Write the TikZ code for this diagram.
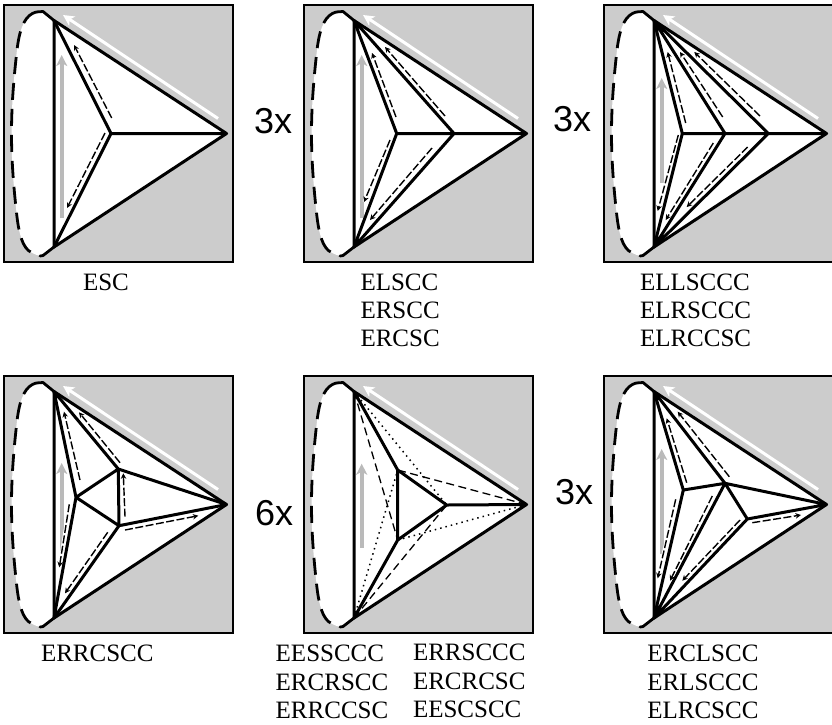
\documentclass[tikz,border=0pt]{standalone}
\usepackage{fontspec}
\setmainfont{Liberation Serif}
\newfontfamily\numfont{Liberation Sans}
\usetikzlibrary{arrows.meta}
\definecolor{panelgray}{gray}{0.8}
\definecolor{arrowgray}{gray}{0.73}
\tikzset{
  x=1pt,y=-1pt,
  frame/.style={draw=black,line width=2pt,fill=panelgray},
  edge/.style={draw=black,line width=3pt,line cap=round,line join=round},
  blobfill/.style={fill=white},
  blobdash/.style={draw=black,line width=2.8pt,dash pattern=on 17pt off 9pt},
  blobend/.style={draw=black,line width=2.8pt,line cap=round,line join=round},
  grayarrow/.style={draw=arrowgray,line width=3.6pt,-{Stealth[length=11pt,width=11pt,inset=3pt]}},
  whitearrow/.style={draw=white,line width=3pt,-{Stealth[length=11pt,width=11pt,inset=3pt]}},
  flow/.style={draw=black,line width=1.4pt,dash pattern=on 8pt off 2.5pt,-{Stealth[length=5.5pt,width=5.5pt]},
    preaction={draw=white,line width=3.2pt,solid,-}},
  thindash/.style={draw=black,line width=1.3pt,dash pattern=on 8pt off 4.5pt},
  thindot/.style={draw=black,line width=1.5pt,dash pattern=on 1.5pt off 4pt},
  caption/.style={font=\fontsize{25}{25}\selectfont,anchor=base west,inner sep=0pt,outer sep=0pt},
  count/.style={font=\numfont\fontsize{36}{36}\selectfont,anchor=base west,inner sep=0pt,outer sep=0pt},
}
% common panel: frame, blob, white triangle, long arrows. #1 top, #2 bottom of gray arrow
\newcommand{\panelbase}[2]{%
  \path[frame] (4,5) rectangle (233,261.5);
  \coordinate (T) at (54,20.5);
  \coordinate (B) at (54,247);
  \coordinate (R) at (226.5,133.5);
  \path[blobfill] (T) -- (41.5,11) .. controls (26,13) and (20,25) .. (17,50) .. controls (13,85) and (11.5,110) .. (11.5,133.5) .. controls (11.5,157) and (13,182) .. (17,217) .. controls (20,242) and (26,254) .. (41.5,256) -- (B) -- cycle;
  \path[blobdash] (36,12) .. controls (26,15) and (20,25) .. (17,50) .. controls (13,85) and (11.5,110) .. (11.5,133.5) .. controls (11.5,157) and (13,182) .. (17,217) .. controls (20,242) and (26,252) .. (34,253);
  \path[blobend] (T) -- (43,11.5) -- (36,12);
  \path[blobend] (B) -- (43,255.5) -- (40,256);
  \path[fill=white] (T) -- (R) -- (B) -- cycle;
  \coordinate (gb) at (61.7,#2);
  \coordinate (gt) at (61.7,#1);
  \draw[grayarrow] (gb) -- (gt);
  \coordinate (wb) at (218,118.5);
  \coordinate (wt) at (63,15);
  \draw[whitearrow] (wb) -- (wt);
  \path[edge] (T) -- (R) -- (B) -- cycle;
}
\newcommand{\flowarrow}[4]{%
  \coordinate (fa) at (#1,#2);
  \coordinate (fb) at (#3,#4);
  \draw[flow] (fa) -- (fb);
}
\begin{document}
\begin{tikzpicture}
\useasboundingbox (0,0) rectangle (832,724);
% panel 1
\begin{scope}[shift={(0,0)}]
  \panelbase{55}{218}
  \coordinate (a) at (111,133.5);
  \path[edge] (T) -- (a) -- (B) (a) -- (R);
  \flowarrow{111.7}{118}{74}{45}
  \flowarrow{105}{133}{67}{208}
\end{scope}
% panel 2
\begin{scope}[shift={(300,0)}]
  \panelbase{55}{218}
  \coordinate (a) at (96.7,133.5);
  \coordinate (b) at (154,133.5);
  \path[edge] (T) -- (a) -- (B) (T) -- (b) -- (B) (a) -- (b) -- (R);
  \flowarrow{96}{117}{72}{53}
  \flowarrow{145}{116}{85}{47}
  \flowarrow{90}{140}{64}{202}
  \flowarrow{132}{148}{70}{220}
\end{scope}
% panel 3
\begin{scope}[shift={(600,0)}]
  \panelbase{78}{183}
  \coordinate (a) at (82.3,133.5);
  \coordinate (b) at (125,133.5);
  \coordinate (c) at (168.3,133.5);
  \path[edge] (T) -- (a) -- (B) (T) -- (b) -- (B) (T) -- (c) -- (B) (a) -- (b) -- (c) -- (R);
  \flowarrow{85.7}{123}{67.7}{52}
  \flowarrow{122.7}{117}{80}{52}
  \flowarrow{160}{116}{94.3}{52}
  \flowarrow{78.3}{135}{57.7}{211}
  \flowarrow{113.3}{143}{65.7}{220}
  \flowarrow{147.7}{147}{86.7}{207}
\end{scope}
% panel 4
\begin{scope}[shift={(0,371)}]
  \panelbase{92}{180}
  \coordinate (a) at (76,126.3);
  \coordinate (b) at (118.3,98);
  \coordinate (c) at (119,154.7);
  \path[edge] (T) -- (a) -- (B) (a) -- (b) -- (c) -- (a) (T) -- (b) -- (R) (B) -- (c) -- (R);
  \flowarrow{80}{109}{64}{40.7}
  \flowarrow{120}{91.7}{79}{41.3}
  \flowarrow{125}{145.7}{123.3}{102.3}
  \flowarrow{125}{159}{198.3}{144.7}
  \flowarrow{69.3}{133.3}{59.3}{196.3}
  \flowarrow{107.7}{161.3}{65}{222.3}
\end{scope}
% panel 5
\begin{scope}[shift={(300,371)}]
  \panelbase{92.7}{176.7}
  \coordinate (a) at (97.7,99);
  \coordinate (b) at (97.7,169);
  \coordinate (c) at (146.7,134);
  \path[thindot] (T) -- (c) (B) -- (a) (b) -- (R);
  \path[thindash] (T) -- (b) (B) -- (c) (R) -- (a);
  \path[edge] (T) -- (a) -- (b) -- (c) -- (a) (c) -- (R) (b) -- (B);
\end{scope}
% panel 6
\begin{scope}[shift={(600,371)}]
  \panelbase{78}{183}
  \coordinate (a) at (83.3,119);
  \coordinate (b) at (125,112.3);
  \coordinate (c) at (147.3,148);
  \path[edge] (T) -- (a) -- (B) (a) -- (b) -- (R) (T) -- (b) -- (c) -- (R) (c) -- (B) (b) -- (B);
  \flowarrow{86.7}{111.7}{66.7}{47.3}
  \flowarrow{129.3}{105.7}{77.7}{40.7}
  \flowarrow{152.3}{151.7}{201}{144}
  \flowarrow{75.7}{128.3}{57.7}{207.3}
  \flowarrow{112.3}{125}{70}{209.7}
  \flowarrow{140}{149}{82.3}{209.7}
\end{scope}
% counts
\node[count] (n1) at (254,133) {3x};
\node[count] (n2) at (553,131) {3x};
\node[count] (n3) at (255,525.7) {6x};
\node[count] (n4) at (555,504.3) {3x};
% captions
\node[caption] (c1) at (83,290.5) {ESC};
\node[caption] (c2a) at (360.5,290.5) {ELSCC};
\node[caption] (c2b) at (360.5,318.5) {ERSCC};
\node[caption] (c2c) at (360.5,346.7) {ERCSC};
\node[caption] (c3a) at (640,290.5) {ELLSCCC};
\node[caption] (c3b) at (640,318.5) {ELRSCCC};
\node[caption] (c3c) at (640,346.7) {ELRCCSC};
\node[caption] (c4) at (41,661.7) {ERRCSCC};
\node[caption] (c5a) at (275.7,661.7) {EESSCCC};
\node[caption] (c5b) at (275.7,690) {ERCRSCC};
\node[caption] (c5c) at (275.7,718) {ERRCCSC};
\node[caption] (c5d) at (413,660.7) {ERRSCCC};
\node[caption] (c5e) at (413,689) {ERCRCSC};
\node[caption] (c5f) at (413,717.7) {EESCSCC};
\node[caption] (c6a) at (647.3,661.7) {ERCLSCC};
\node[caption] (c6b) at (647.3,690) {ERLSCCC};
\node[caption] (c6c) at (647.3,718) {ELRCSCC};
\end{tikzpicture}
\end{document}
